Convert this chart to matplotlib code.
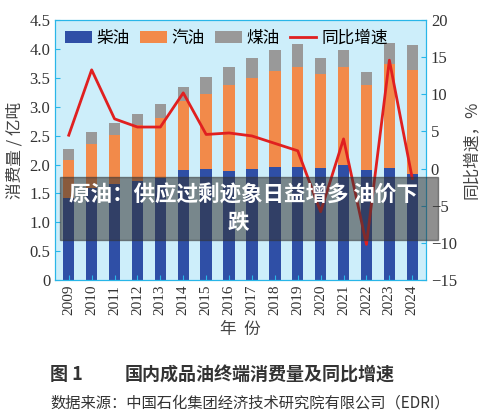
import matplotlib.pyplot as plt
import numpy as np

plt.rcParams['font.family'] = ['Noto Sans CJK SC', 'DejaVu Sans']

years = [str(y) for y in range(2009, 2025)]
diesel = [1.42, 1.60, 1.67, 1.72, 1.77, 1.91, 1.92, 1.89, 1.92, 1.95, 1.96, 1.94, 1.99, 1.90, 1.94, 1.84]
gas_top = [2.08, 2.36, 2.51, 2.68, 2.80, 3.10, 3.22, 3.37, 3.50, 3.61, 3.68, 3.57, 3.69, 3.38, 3.74, 3.63]
total = [2.26, 2.56, 2.72, 2.88, 3.05, 3.35, 3.51, 3.69, 3.85, 3.99, 4.08, 3.84, 3.99, 3.60, 4.11, 4.06]
growth = [4.5, 13.3, 6.7, 5.6, 5.6, 10.2, 4.6, 4.8, 4.4, 3.4, 2.4, -5.8, 4.0, -10.2, 14.6, -1.3]

gasoline = np.array(gas_top) - np.array(diesel)
kerosene = np.array(total) - np.array(gas_top)

fig = plt.figure(figsize=(5, 4.18), dpi=100)
ax = fig.add_axes([0.11, 0.33, 0.742, 0.622])
ax.set_facecolor('#cdeefa')
x = np.arange(len(years))
w = 0.5
ax.bar(x, diesel, w, color='#2f4fa6', label='柴油')
ax.bar(x, gasoline, w, bottom=diesel, color='#f28a4a', label='汽油')
ax.bar(x, kerosene, w, bottom=gas_top, color='#999999', label='煤油')
ax.set_ylim(0, 4.5)
ax.set_xlim(-0.6, len(years) - 0.4)
ax.set_yticks(np.arange(0, 4.6, 0.5))
ax.set_yticklabels(['0'] + ['%.1f' % v for v in np.arange(0.5, 4.6, 0.5)],
                   family='Liberation Serif', fontsize=12)
ax.set_xticks(x)
ax.set_xticklabels(years, rotation=90, family='Liberation Serif', fontsize=11)
ax.set_ylabel('消费量 / 亿吨', fontsize=12, color='#444444')
ax.set_xlabel('年  份', fontsize=12, color='#444444')
for s in ax.spines.values():
    s.set_color('#29b6e8')
ax.tick_params(colors='#29b6e8', labelcolor='#333333', direction='in')

ax2 = ax.twinx()
ax2.plot(x, growth, color='#e02020', lw=2, label='同比增速')
ax2.set_ylim(-15, 20)
ax2.set_yticks(range(-15, 21, 5))
ax2.set_yticklabels(['\u2212' + str(-v) if v < 0 else str(v) for v in range(-15, 21, 5)],
                    family='Liberation Serif', fontsize=12)
ax2.set_ylabel('同比增速，%', fontsize=12, color='#444444')
ax2.tick_params(colors='#29b6e8', labelcolor='#333333', direction='in')
for s in ax2.spines.values():
    s.set_color('#29b6e8')

h1, l1 = ax.get_legend_handles_labels()
h2, l2 = ax2.get_legend_handles_labels()
ax.legend(h1 + h2, l1 + l2, loc='upper left', ncol=4, frameon=False,
          fontsize=12, handlelength=1.6, columnspacing=0.6, handletextpad=0.3,
          borderaxespad=0.2)

fig.text(0.10, 0.09, '图 1', fontsize=13, weight='bold', color='#333333')
fig.text(0.25, 0.09, '国内成品油终端消费量及同比增速', fontsize=13, weight='bold', color='#333333')
fig.text(0.10, 0.025, '数据来源：中国石化集团经济技术研究院有限公司（EDRI）', fontsize=11, color='#333333')

# overlay banner
fig.patches.append(plt.Rectangle((0.12, 0.426), 0.756, 0.151, transform=fig.transFigure,
                                 color='#333333', alpha=0.55, zorder=10))
fig.text(0.138, 0.533, '原油：供应过剩迹象日益增多 油价下', fontsize=15.5, weight='bold',
         color='white', zorder=11, va='center')
fig.text(0.455, 0.467, '跌', fontsize=15.5, weight='bold', color='white', zorder=11, va='center')

fig.savefig('out.png', dpi=100)
